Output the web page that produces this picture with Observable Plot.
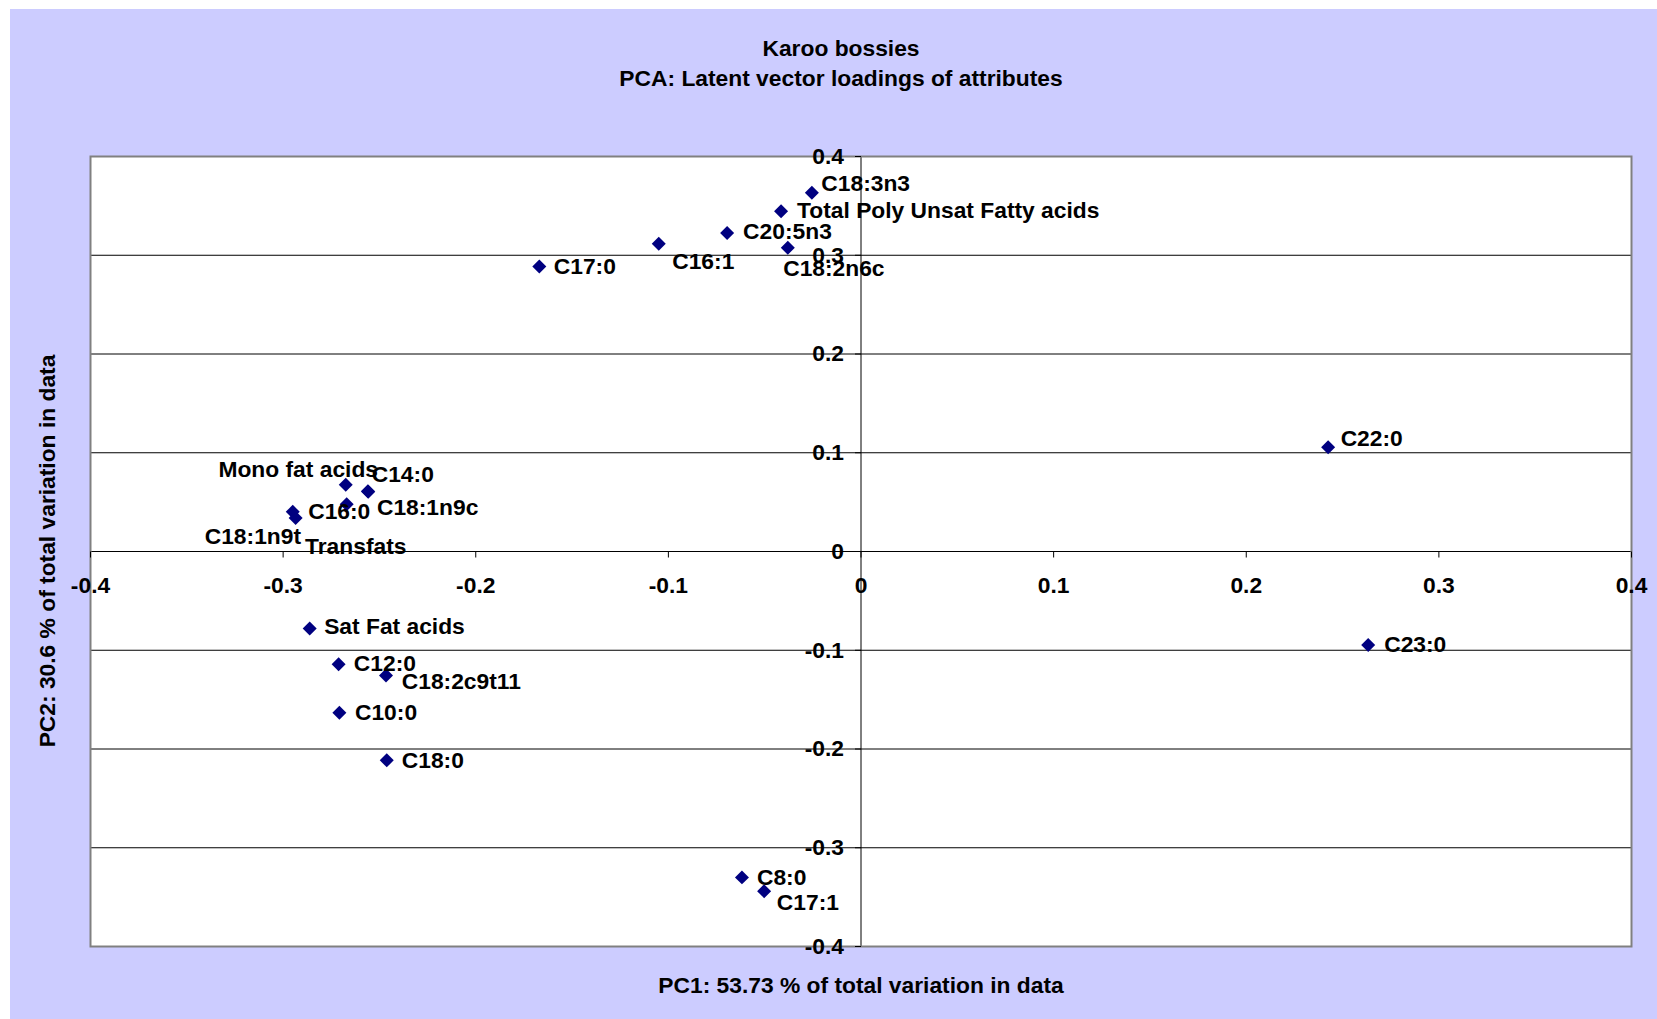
<!DOCTYPE html>
<html>
<head>
<meta charset="utf-8">
<script src="https://cdn.jsdelivr.net/npm/d3@7"></script>
<script src="https://cdn.jsdelivr.net/npm/@observablehq/plot@0.6"></script>
<style>
  html, body { margin: 0; padding: 0; background: white; }
  #wrap { position: relative; width: 1657px; height: 1019px; overflow: hidden; font-family: "Liberation Sans", Arial, sans-serif; }
  #bg { position: absolute; left: 10px; top: 9px; right: 0; bottom: 0; background: #CCCCFF; }
  .t { position: absolute; font-weight: bold; font-size: 22.8px; color: black; white-space: nowrap; transform: translate(-50%, -50%); }
  .ax { position: absolute; font-weight: bold; font-size: 22.8px; color: black; white-space: nowrap; }
  #plot { position: absolute; left: 0; top: 0; }
</style>
</head>
<body>
<div id="wrap">
  <div id="bg"></div>
  <div class="t" style="left:841px; top:48px;">Karoo bossies</div>
  <div class="t" style="left:841px; top:78px;">PCA: Latent vector loadings of attributes</div>
  <div class="ax" style="left:861px; top:985px; transform: translate(-50%, -50%);">PC1: 53.73 % of total variation in data</div>
  <div class="ax" style="left:47px; top:551px; transform: translate(-50%, -50%) rotate(-90deg);">PC2: 30.6 % of total variation in data</div>
  <div id="plot"></div>
</div>
<script>
// ---- data ----
const names = ["C18:3n3", "Total Poly Unsat Fatty acids", "C20:5n3", "C18:2n6c", "C16:1", "C17:0",
  "C22:0", "Mono fat acids", "C14:0", "C16:0", "C18:1n9c", "C18:1n9t", "Transfats",
  "Sat Fat acids", "C12:0", "C18:2c9t11", "C10:0", "C18:0", "C8:0", "C17:1", "C23:0"];
const pc1 = [-0.0255, -0.0415, -0.0695, -0.0380, -0.1050, -0.1670,
  0.2425, -0.2675, -0.2560, -0.2670, -0.2558, -0.2950, -0.2935,
  -0.2862, -0.2712, -0.2466, -0.2708, -0.2462, -0.0618, -0.0503, 0.2633];
const pc2 = [0.3633, 0.3446, 0.3226, 0.3075, 0.3117, 0.2886,
  0.1055, 0.0675, 0.0610, 0.0478, 0.0606, 0.0402, 0.0340,
  -0.0780, -0.1142, -0.1255, -0.1632, -0.2115, -0.3300, -0.3440, -0.0948];
// label anchor points (data units, left edge / vertical middle of each label)
const labelX = [-0.0206, -0.0332, -0.0612, -0.0404, -0.0980, -0.1595,
  0.2490, -0.3336, -0.2540, -0.2870, -0.2513, -0.3407, -0.2886,
  -0.2787, -0.2633, -0.2384, -0.2627, -0.2384, -0.0540, -0.0437, 0.2716];
const labelY = [0.3720, 0.3450, 0.3240, 0.2864, 0.2930, 0.2885,
  0.1140, 0.0830, 0.0776, 0.0400, 0.0444, 0.0145, 0.0048,
  -0.0766, -0.1140, -0.1322, -0.1630, -0.2115, -0.3300, -0.3560, -0.0948];

const xTicks = [-0.4, -0.3, -0.2, -0.1, 0, 0.1, 0.2, 0.3, 0.4];
const xTickLabels = ["-0.4", "-0.3", "-0.2", "-0.1", "0", "0.1", "0.2", "0.3", "0.4"];
const yTicks = [-0.4, -0.3, -0.2, -0.1, 0, 0.1, 0.2, 0.3, 0.4];
const yTickLabels = ["-0.4", "-0.3", "-0.2", "-0.1", "0", "0.1", "0.2", "0.3", "0.4"];

const points = names.map((n, i) => ({name: n, x: pc1[i], y: pc2[i], lx: labelX[i], ly: labelY[i]}));
const xt = xTicks.map((v, i) => ({v, label: xTickLabels[i]}));
const yt = yTicks.map((v, i) => ({v, label: yTickLabels[i]}));

const tickDown = {draw(ctx) { ctx.moveTo(0, 0); ctx.lineTo(0, 6); }};
const tickLeft = {draw(ctx) { ctx.moveTo(0, 0); ctx.lineTo(-6, 0); }};

const font = {fontFamily: "Liberation Sans, Arial, sans-serif", fontWeight: "bold", fontSize: 22.8, fill: "black"};

const chart = Plot.plot({
  width: 1657,
  height: 1019,
  marginLeft: 90,
  marginRight: 26,
  marginTop: 156,
  marginBottom: 73,
  style: {background: "transparent", overflow: "visible"},
  x: {domain: [-0.4, 0.4], axis: null},
  y: {domain: [-0.4, 0.4], axis: null},
  marks: [
    Plot.frame({fill: "white", stroke: "none"}),
    Plot.ruleY(yTicks, {stroke: "black", strokeWidth: 1}),
    Plot.ruleX([0], {stroke: "black", strokeWidth: 1}),
    Plot.frame({stroke: "#808080", strokeWidth: 2, fill: "none"}),
    Plot.dot(xt, {x: "v", y: () => 0, symbol: tickDown, stroke: "black", fill: "none", strokeWidth: 1}),
    Plot.dot(yt, {x: () => 0, y: "v", symbol: tickLeft, stroke: "black", fill: "none", strokeWidth: 1}),
    Plot.text(xt, {x: "v", y: () => 0, text: "label", dy: 34, lineAnchor: "middle", textAnchor: "middle", ...font}),
    Plot.text(yt, {x: () => 0, y: "v", text: "label", dx: -17, lineAnchor: "middle", textAnchor: "end", ...font}),
    Plot.dot(points, {x: "x", y: "y", symbol: "diamond2", r: 6.3, fill: "#000080", stroke: "none"}),
    Plot.text(points, {x: "lx", y: "ly", text: "name", textAnchor: "start", lineAnchor: "middle", ...font})
  ]
});
document.getElementById("plot").appendChild(chart);
</script>
</body>
</html>
